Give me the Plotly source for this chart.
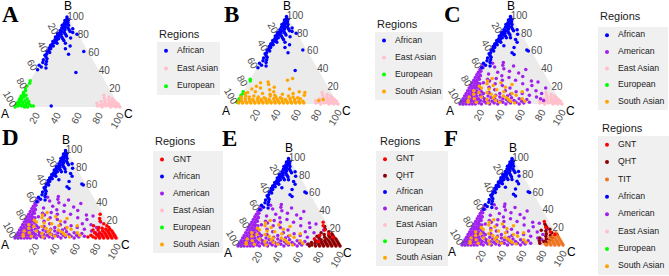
import plotly.graph_objects as go

# ---------------------------------------------------------------------------
# DATA  -- every point is (B %, C %); the A share is the remainder to 100
# ---------------------------------------------------------------------------
african_core = [
    (99, 0), (97, 1), (96, 3), (95, 0), (94, 2), (93, 4), (92, 1), (91, 3), (90, 6), (90, 0),
    (89, 2), (88, 4), (87, 7), (87, 1), (86, 3), (85, 5), (85, 9), (84, 1), (83, 3), (83, 11),
    (82, 6), (81, 0), (81, 2), (80, 8), (80, 4), (79, 1), (78, 3), (78, 10), (77, 6), (77, 0),
    (76, 2), (75, 4), (75, 8), (74, 1), (73, 3), (72, 0), (71, 2), (70, 5), (69, 1), (68, 0),
    (67, 3), (66, 1), (65, 0), (64, 2), (62, 1), (61, 0), (60, 3), (58, 1), (57, 0), (55, 2),
    (53, 4), (52, 1), (50, 5), (49, 2), (47, 6), (46, 0), (44, 3), (43, 8), (41, 1),
]
african_ab_scatter = [(86, 12), (82, 14), (80, 19), (76, 15), (73, 10), (70, 13), (67, 19),
                      (64, 16), (61, 35), (58, 22), (38, 39)]
african_a_extra = [(1, 34)]
african_cf_scatter = [(84, 14), (81, 23), (79, 17), (75, 12), (73, 18), (70, 21), (66, 10),
                      (64, 21), (61, 35), (60, 37), (58, 22), (56, 25)]

european_a = [
    (0, 0), (1, 2), (3, 0), (2, 4), (4, 2), (5, 0), (6, 3), (7, 1), (8, 0), (1, 6), (3, 6),
    (5, 5), (9, 2), (10, 0), (0, 9), (2, 9), (7, 6), (11, 3), (12, 0), (14, 1), (4, 9), (0, 12),
    (16, 0), (18, 1), (1, 15), (1, 17), (20, 0), (23, 0), (26, 1), (29, 0), (9, 7), (13, 4),
    (6, 10), (3, 12),
]
european_b = [(2, 0), (4, 1), (6, 0), (8, 1), (10, 0), (12, 1), (14, 0), (26, 1), (28, 0)]
european_cf = [(1, 1), (3, 0), (0, 3), (5, 1), (2, 2)]

east_asian = [
    (0, 100), (1, 98), (3, 97), (0, 96), (2, 95), (5, 94), (1, 93), (4, 92), (7, 91), (0, 91),
    (3, 90), (6, 89), (9, 88), (2, 88), (5, 87), (1, 86), (8, 85), (4, 84), (11, 84), (0, 83),
    (3, 82), (7, 82), (2, 80), (10, 80), (6, 79), (1, 78), (13, 78), (4, 76),
]

south_asian_b = [
    (1, 2), (1, 6), (1, 10), (1, 14), (1, 18), (1, 22), (1, 26), (1, 30), (1, 34), (1, 38),
    (1, 42), (1, 46), (1, 50), (1, 54), (1, 58), (1, 62), (1, 66),
    (3, 0), (3, 4), (3, 8), (3, 12), (3, 16), (3, 20), (3, 24), (3, 28), (3, 32), (3, 36),
    (3, 40), (3, 44), (3, 48), (3, 52), (3, 56), (3, 60), (3, 64),
    (6, 2), (6, 6), (6, 10), (5, 14), (6, 18), (5, 22), (6, 26), (5, 30), (6, 34), (5, 38),
    (6, 42), (5, 46), (6, 50), (5, 55), (6, 60),
    (8, 1), (9, 5), (8, 9), (9, 13), (8, 18), (7, 24), (9, 29), (8, 35), (7, 40), (9, 47),
    (8, 52), (7, 57),
    (25, 19), (22, 21), (18, 15), (17, 7), (16, 25), (14, 12), (12, 20), (11, 28), (14, 30),
    (20, 10), (27, 37), (29, 41), (14, 55), (13, 61), (12, 50), (11, 40), (10, 33), (17, 44),
    (13, 5), (19, 28), (24, 12), (10, 62), (5, 83), (4, 79), (12, 3),
]
south_asian_cf = [
    (29, 17), (26, 14), (23, 15), (21, 22), (18, 12), (16, 28), (14, 36), (13, 20), (11, 8),
    (9, 30), (8, 17), (7, 42), (6, 11), (5, 24), (4, 33), (3, 48), (2, 15), (2, 38), (1, 27),
    (1, 53), (12, 45), (14, 54), (10, 50), (19, 35), (24, 28), (6, 58), (3, 62), (8, 5),
    (15, 6), (20, 9), (4, 6), (11, 25), (17, 20), (9, 38), (5, 45), (2, 7), (22, 40), (13, 12),
    (7, 29),
]

american_cf = [
    (0, 0), (3, 0), (6, 0), (9, 0), (12, 0), (15, 0), (18, 0), (21, 0), (24, 0), (27, 0),
    (30, 0), (33, 0), (36, 0), (39, 0), (42, 0), (45, 0),
    (0, 3), (3, 3), (6, 3), (9, 3), (12, 3), (15, 3), (18, 3), (21, 3), (24, 3), (27, 3),
    (30, 3), (33, 3), (37, 2), (41, 2),
    (0, 6), (3, 6), (6, 6), (9, 6), (12, 6), (15, 6), (18, 6), (21, 6), (24, 5), (28, 5), (32, 4),
    (0, 9), (3, 9), (6, 9), (9, 9), (12, 9), (15, 9), (19, 8), (23, 8),
    (0, 12), (3, 12), (6, 12), (9, 12), (13, 11), (17, 11),
    (0, 15), (3, 15), (6, 15), (10, 15), (14, 14),
    (1, 18), (4, 18), (8, 18), (12, 17),
    (0, 21), (3, 22), (6, 21), (9, 23), (1, 25), (4, 26), (7, 27), (0, 29), (3, 30), (6, 31),
    (10, 30), (1, 33), (4, 34), (8, 35), (0, 37), (3, 38), (6, 39), (2, 41), (5, 43), (9, 42),
    (0, 45), (3, 46), (7, 47), (1, 49), (4, 51), (2, 54), (6, 55), (0, 58), (3, 59), (1, 62),
    (5, 63), (2, 67),
    (13, 22), (16, 26), (12, 33), (19, 19), (15, 37), (11, 44), (14, 48), (18, 40), (21, 31),
    (23, 23), (26, 16), (24, 11), (27, 28), (29, 21), (12, 55), (16, 58), (10, 63), (15, 67),
    (8, 71), (21, 60), (23, 50), (27, 41), (30, 33), (32, 25), (28, 13), (34, 11), (36, 19),
    (31, 46), (37, 30), (40, 23), (35, 40), (42, 13), (44, 20), (46, 9), (43, 31), (47, 19),
    (39, 45), (26, 57), (25, 64), (6, 76), (12, 74), (18, 75), (4, 80),
]

gnt_d = [
    (0, 99), (2, 97), (0, 95), (4, 95), (2, 93), (6, 93), (0, 91), (4, 91), (8, 91), (2, 89),
    (6, 89), (10, 88), (0, 87), (4, 87), (8, 87), (12, 86), (2, 85), (6, 85), (10, 84), (0, 83),
    (4, 83), (8, 82), (14, 83), (2, 81), (6, 80), (11, 80), (0, 79), (4, 78), (9, 77), (1, 76),
    (16, 79), (6, 75), (3, 73), (12, 76), (27, 70), (19, 74), (22, 72), (9, 72), (1, 71), (14, 70),
]
gnt_e = [(27, 70), (12, 74), (8, 71), (14, 82), (18, 76), (5, 76), (21, 80), (10, 88), (23, 72), (16, 85)]
gnt_f = [(27, 68), (20, 73), (24, 78), (15, 80), (12, 86)]

qht_e = [
    (0, 100), (2, 98), (0, 96), (4, 96), (2, 94), (6, 94), (0, 92), (4, 92), (8, 92), (2, 90),
    (6, 90), (10, 89), (0, 88), (4, 88), (8, 88), (12, 87), (2, 86), (6, 86), (10, 85), (14, 85),
    (0, 84), (4, 84), (8, 83), (12, 83), (2, 82), (6, 82), (16, 81), (0, 80), (4, 80), (10, 80),
    (2, 78), (7, 78), (13, 78), (0, 76), (5, 76), (3, 74), (9, 75), (1, 72), (6, 73), (0, 70),
    (4, 70), (19, 76), (15, 74), (22, 74), (11, 72), (2, 68),
]
qht_f = [(2, 76), (5, 74), (8, 73), (4, 79), (7, 80), (10, 78), (13, 77), (16, 75), (11, 82),
         (14, 82), (18, 78), (20, 74), (22, 72), (9, 85), (17, 70), (6, 84), (12, 88), (3, 82), (24, 70)]
tit_f = [
    (0, 100), (2, 98), (0, 96), (4, 96), (2, 94), (6, 94), (0, 92), (4, 92), (8, 92), (2, 90),
    (6, 90), (10, 90), (0, 88), (4, 88), (8, 88), (12, 87), (2, 86), (6, 86), (0, 84), (4, 84),
    (10, 85), (14, 86), (1, 82), (8, 83),
]

panel_letters = ["A", "B", "C", "D", "E", "F"]
corner_names = ["A", "B", "C"]          # bottom-left, top, bottom-right
tick_vals = [0, 20, 40, 60, 80]
tick_text = ["100", "80", "60", "40", "20"]
legend_title = "Regions"

region_colors = {
    "GNT": "#FF0000", "QHT": "#8B0000", "TIT": "#EE7621",
    "African": "#0000FF", "American": "#A020F0", "East Asian": "#FFC0CB",
    "European": "#00FF00", "South Asian": "#FFA500",
}

panels = [
    dict(draw=[("East Asian", east_asian), ("European", european_a),
               ("African", african_core + african_ab_scatter + african_a_extra)],
         legend=["African", "East Asian", "European"]),
    dict(draw=[("East Asian", east_asian), ("European", european_b), ("South Asian", south_asian_b),
               ("African", african_core + african_ab_scatter)],
         legend=["African", "East Asian", "European", "South Asian"]),
    dict(draw=[("East Asian", east_asian), ("European", european_cf), ("American", american_cf),
               ("South Asian", south_asian_cf), ("African", african_core + african_cf_scatter)],
         legend=["African", "American", "East Asian", "European", "South Asian"]),
    dict(draw=[("East Asian", east_asian), ("European", european_cf), ("American", american_cf),
               ("South Asian", south_asian_cf), ("African", african_core + african_cf_scatter),
               ("GNT", gnt_d)],
         legend=["GNT", "African", "American", "East Asian", "European", "South Asian"]),
    dict(draw=[("East Asian", east_asian), ("European", european_cf), ("American", american_cf),
               ("South Asian", south_asian_cf), ("African", african_core + african_cf_scatter),
               ("QHT", qht_e), ("GNT", gnt_e)],
         legend=["GNT", "QHT", "African", "American", "East Asian", "European", "South Asian"]),
    dict(draw=[("East Asian", east_asian), ("European", european_cf), ("American", american_cf),
               ("South Asian", south_asian_cf), ("African", african_core + african_cf_scatter),
               ("QHT", qht_f), ("TIT", tit_f), ("GNT", gnt_f)],
         legend=["GNT", "QHT", "TIT", "African", "American", "East Asian", "European",
                 "South Asian"]),
]

# ---------------------------------------------------------------------------
# LAYOUT GEOMETRY (pixels in a 669 x 276 page)
# ---------------------------------------------------------------------------
W, H = 669, 276
SQ3 = 0.8660254
geom = [
    dict(tri=(15, 120, 107), leg=(157, 42, 220, 95), title=(157, 34), letter=(10, 14)),
    dict(tri=(236, 338, 104), leg=(375, 32, 443, 100), title=(375, 24), letter=(231, 14)),
    dict(tri=(460, 562, 104), leg=(598, 27, 668, 110), title=(598, 16), letter=(452, 14)),
    dict(tri=(15, 117, 238), leg=(153, 151, 223, 253), title=(153, 141), letter=(10, 137)),
    dict(tri=(238, 340, 246), leg=(376, 151, 448, 266), title=(378, 141), letter=(229, 138)),
    dict(tri=(462, 563, 245), leg=(598, 136, 669, 275), title=(600, 128), letter=(451, 138)),
]
SANS = "Liberation Sans, Arial, sans-serif"
SERIF = "Liberation Serif, Times New Roman, serif"


def px(x):
    return x / W


def py(y):
    return 1 - y / H


fig = go.Figure()
layout = dict(width=W, height=H, margin=dict(l=0, r=0, t=0, b=0),
              paper_bgcolor="white", plot_bgcolor="#F0F0F0", showlegend=False,
              font=dict(family=SANS))
annotations = []

axis_common = dict(tickmode="array", tickvals=tick_vals, ticktext=tick_text,
                   showgrid=False, showline=False, ticks="",
                   tickfont=dict(size=10, color="#4D4D4D", family=SANS),
                   title=dict(text=""))

for i, (panel, g) in enumerate(zip(panels, geom)):
    tid = "ternary" if i == 0 else f"ternary{i + 1}"
    left, right, bottom = g["tri"]
    top = bottom - (right - left) * SQ3
    layout[tid] = dict(
        domain=dict(x=[px(left), px(right)], y=[py(bottom), py(top)]),
        sum=100, bgcolor="#EBEBEB",
        aaxis=dict(axis_common, tickangle=60),
        baxis=dict(axis_common, tickangle=-60),
        caxis=dict(axis_common, tickangle=0),
    )
    for name, pts in panel["draw"]:
        fig.add_trace(go.Scatterternary(
            a=[p[0] for p in pts], c=[p[1] for p in pts], subplot=tid,
            mode="markers", name=name, cliponaxis=False, hoverinfo="skip",
            marker=dict(size=3.5, color=region_colors[name], line=dict(width=0)),
        ))

    # corner labels
    for txt, (x, y) in zip(corner_names, [(left - 10, bottom + 7),
                                          ((left + right) / 2, top - 10),
                                          (right + 8, bottom + 7)]):
        annotations.append(dict(text=txt, x=px(x), y=py(y), xref="paper", yref="paper",
                                xanchor="center", yanchor="middle", showarrow=False,
                                font=dict(size=12, color="black", family=SANS)))
    # panel letter
    lx, ly = g["letter"]
    annotations.append(dict(text=panel_letters[i], x=px(lx), y=py(ly), xref="paper",
                            yref="paper", xanchor="center", yanchor="middle",
                            showarrow=False,
                            font=dict(size=23, color="black", family=SERIF, weight="bold")))
    # legend title
    tx, ty = g["title"]
    annotations.append(dict(text=legend_title, x=px(tx), y=py(ty), xref="paper",
                            yref="paper", xanchor="left", yanchor="middle", showarrow=False,
                            font=dict(size=11, color="#1A1A1A", family=SANS)))

    # legend body (keys + labels) in its own small cartesian panel
    l, t, r, b = g["leg"]
    n = len(panel["legend"])
    xk = "xaxis" if i == 0 else f"xaxis{i + 1}"
    yk = "yaxis" if i == 0 else f"yaxis{i + 1}"
    xr = "x" if i == 0 else f"x{i + 1}"
    yr = "y" if i == 0 else f"y{i + 1}"
    layout[xk] = dict(domain=[px(l), px(r)], range=[0, r - l], visible=False,
                      fixedrange=True, anchor=yr)
    layout[yk] = dict(domain=[py(b), py(t)], range=[n - 0.5, -0.5], visible=False,
                      fixedrange=True, anchor=xr)
    fig.add_trace(go.Scatter(
        x=[9] * n, y=list(range(n)), xaxis=xr, yaxis=yr, mode="markers",
        hoverinfo="skip", cliponaxis=False,
        marker=dict(size=4, color=[region_colors[k] for k in panel["legend"]]),
    ))
    fig.add_trace(go.Scatter(
        x=[20] * n, y=list(range(n)), xaxis=xr, yaxis=yr, mode="text",
        text=panel["legend"], textposition="middle right", hoverinfo="skip",
        cliponaxis=False, textfont=dict(size=8.7, color="#1A1A1A", family=SANS),
    ))

layout["annotations"] = annotations
fig.update_layout(**layout)
fig.write_html("out.html")
